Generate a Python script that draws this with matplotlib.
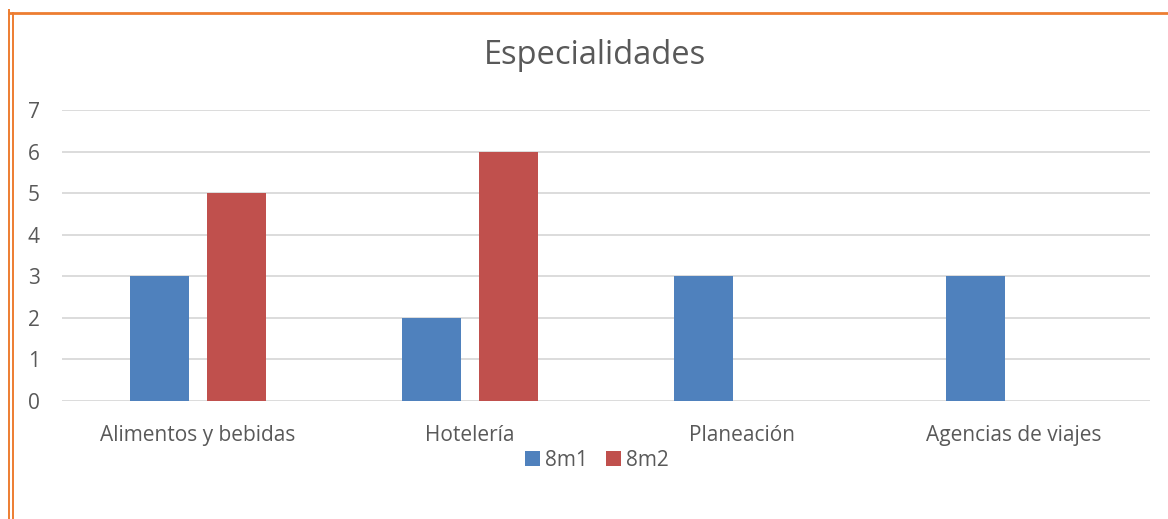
import matplotlib.pyplot as plt
from matplotlib.lines import Line2D
import numpy as np

plt.rcParams['font.family'] = ['Open Sans', 'DejaVu Sans']

categories = ['Alimentos y bebidas', 'Hotelería', 'Planeación', 'Agencias de viajes']
series_names = ['8m1', '8m2']
s1 = [3, 2, 3, 3]
s2 = [5, 6, 0, 0]
colors = ['#4F81BD', '#C0504D']
text_col = '#595959'

fig = plt.figure(figsize=(11.68, 5.19), dpi=100)
ax = fig.add_axes([62/1168, 1 - 401/519, 1088/1168, 291/519])

x = np.arange(len(categories))
w = 0.22
off = 0.1415
ax.bar(x - off, s1, w, color=colors[0], label=series_names[0], zorder=3)
ax.bar(x + off, s2, w, color=colors[1], label=series_names[1], zorder=3)

ax.set_xlim(-0.5, len(categories) - 0.5)
ax.set_ylim(0, 7)
ax.set_yticks(range(0, 8))
ax.grid(axis='y', color='#D9D9D9', linewidth=1.3, zorder=0)
for s in ax.spines.values():
    s.set_visible(False)
ax.tick_params(length=0, labelsize=15, colors=text_col)
ax.tick_params(axis='y', pad=16)
ax.tick_params(axis='x', pad=17)
ax.set_xticks(x)
ax.set_xticklabels(categories)

fig.text(595/1168, 1 - 55/519, 'Especialidades', ha='center', va='center',
         fontsize=23.5, color=text_col)

fig.legend(loc='center', bbox_to_anchor=(597/1168, 1 - 460/519), ncol=2,
           frameon=False, fontsize=15, handlelength=0.7, handleheight=0.7,
           handletextpad=0.25, columnspacing=0.9, labelcolor=text_col)

# orange page border
oc = '#ED7D31'
fig.add_artist(Line2D([9/1168, 9/1168], [0, 1 - 10/519], color=oc, lw=1.4))
fig.add_artist(Line2D([12.5/1168, 12.5/1168], [0, 1 - 12.5/519], color=oc, lw=1.4))
fig.add_artist(Line2D([9/1168, 1], [1 - 12.5/519, 1 - 12.5/519], color=oc, lw=2))

fig.savefig('out.png', dpi=100)
